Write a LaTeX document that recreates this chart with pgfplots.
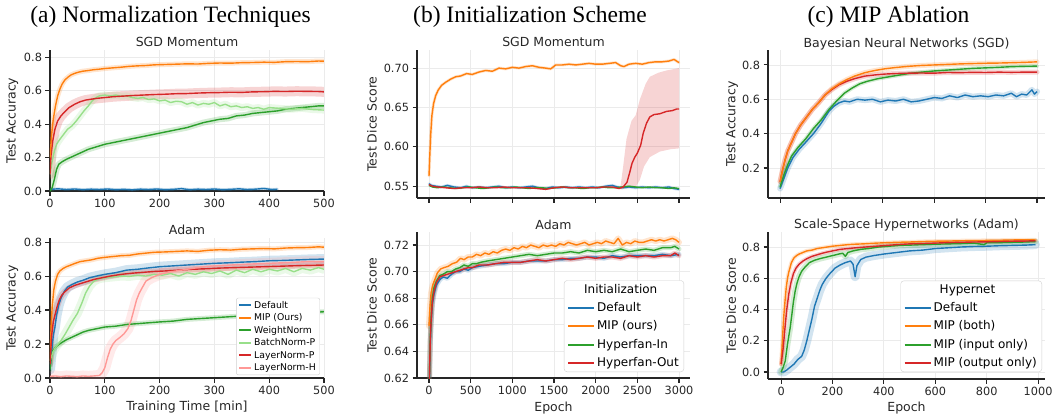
\documentclass[border=0pt]{standalone}
\usepackage{pgfplots}
\pgfplotsset{compat=1.18}
\usepackage{pgfplotstable}
\usepackage{fontspec}
\setmainfont{DejaVu Sans}
\newfontfamily\tms{Liberation Serif}
\definecolor{tblue}{HTML}{1F77B4}
\definecolor{torange}{HTML}{FF7F0E}
\definecolor{tgreen}{HTML}{2CA02C}
\definecolor{tlgreen}{HTML}{98DF8A}
\definecolor{tred}{HTML}{D62728}
\definecolor{tpink}{HTML}{FF9896}
\definecolor{spine}{HTML}{262626}
\definecolor{txt}{HTML}{262626}
\definecolor{gridc}{HTML}{EBEBEB}
\definecolor{legc}{HTML}{D0D0D0}
\pgfplotsset{
  myaxis/.style={scale only axis, axis lines=left, axis line style={-, line width=1.1pt, color=spine},
    tick align=outside, major tick length=4.5pt, every tick/.style={line width=1.1pt, color=spine},
    grid=major, major grid style={line width=0.8pt, color=gridc},
    tick label style={font=\fontsize{11.3}{13}\selectfont, color=txt},
    every axis title shift=0pt,
    title style={font=\fontsize{12.5}{15}\selectfont, color=txt, at={(0.5,1)}, anchor=base, yshift=3pt},
    /pgf/number format/assume math mode=true, /pgf/number format/1000 sep={},
    every axis y label/.style={rotate=90, anchor=center, font=\fontsize{12.5}{15}\selectfont, color=txt},
    every axis x label/.style={anchor=center, font=\fontsize{12.5}{15}\selectfont, color=txt},
    legend cell align=left},
  band/.style={line width=#1, opacity=0.2, forget plot, line join=round, line cap=round},
  ln/.style={line width=1.4pt, line join=round},
  yp1/.style={yticklabel style={/pgf/number format/fixed, /pgf/number format/fixed zerofill, /pgf/number format/precision=1}},
  yp2/.style={yticklabel style={/pgf/number format/fixed, /pgf/number format/fixed zerofill, /pgf/number format/precision=2}},
  bigleg/.style={legend style={at={(1,0)}, anchor=south east, font=\fontsize{12}{14}\selectfont, draw=legc, fill=white, rounded corners=3pt, inner xsep=3pt, inner ysep=1.5pt, row sep=3.8pt},
    legend image code/.code={\draw[#1, line width=2pt, rounded corners=0pt, opacity=1] (0pt,0pt) -- (26pt,0pt);}},
}
% ---------- (a) SGD ----------
\pgfplotstableread[row sep=\\]{x y\\0 0.20\\3 0.34\\6 0.43\\10 0.51\\14 0.57\\18 0.61\\22 0.64\\27 0.665\\32 0.68\\38 0.695\\45 0.705\\52 0.712\\60 0.718\\70 0.722\\80 0.727\\90 0.73\\100 0.734\\115 0.738\\130 0.742\\145 0.747\\160 0.75\\175 0.752\\190 0.756\\210 0.758\\230 0.76\\250 0.762\\270 0.761\\290 0.765\\310 0.767\\330 0.766\\350 0.769\\370 0.77\\390 0.772\\410 0.771\\430 0.775\\450 0.776\\470 0.775\\490 0.779\\500 0.778\\}\aTorange
\pgfplotstableread[row sep=\\]{x y\\0 0.10\\2 0.22\\5 0.30\\9 0.37\\14 0.42\\20 0.45\\27 0.475\\35 0.50\\45 0.52\\55 0.535\\65 0.545\\75 0.55\\85 0.555\\100 0.56\\115 0.565\\130 0.568\\150 0.572\\170 0.575\\190 0.578\\210 0.58\\230 0.583\\250 0.584\\270 0.587\\290 0.589\\310 0.59\\330 0.592\\350 0.591\\370 0.594\\390 0.595\\410 0.597\\430 0.596\\450 0.598\\470 0.597\\490 0.596\\500 0.594\\}\aTred
\pgfplotstableread[row sep=\\]{x y\\0 0.10\\4 0.18\\8 0.24\\12 0.28\\18 0.31\\25 0.34\\32 0.37\\40 0.39\\48 0.42\\55 0.45\\62 0.48\\70 0.51\\77 0.54\\84 0.56\\90 0.57\\100 0.575\\110 0.57\\120 0.575\\130 0.568\\140 0.57\\150 0.56\\160 0.555\\170 0.56\\180 0.548\\190 0.552\\200 0.54\\210 0.545\\220 0.53\\230 0.538\\240 0.535\\250 0.52\\260 0.53\\270 0.515\\280 0.525\\290 0.52\\300 0.53\\310 0.51\\320 0.52\\330 0.505\\340 0.51\\350 0.50\\360 0.505\\370 0.495\\380 0.50\\390 0.49\\400 0.50\\420 0.495\\440 0.49\\460 0.495\\480 0.488\\500 0.485\\}\aTlgreen
\pgfplotstableread[row sep=\\]{x y\\0 0.0\\4 0.02\\8 0.07\\12 0.13\\16 0.16\\22 0.175\\30 0.19\\40 0.205\\50 0.22\\60 0.235\\70 0.25\\80 0.26\\90 0.27\\100 0.28\\115 0.29\\130 0.30\\145 0.31\\160 0.32\\175 0.33\\190 0.34\\205 0.35\\220 0.36\\235 0.37\\250 0.38\\265 0.395\\280 0.41\\295 0.42\\310 0.43\\325 0.435\\340 0.45\\355 0.455\\370 0.465\\385 0.47\\400 0.475\\415 0.48\\430 0.49\\445 0.495\\460 0.50\\475 0.505\\490 0.51\\500 0.51\\}\aTgreen
\pgfplotstableread[row sep=\\]{x y\\0 0.010\\15 0.013\\30 0.009\\45 0.012\\60 0.008\\75 0.011\\90 0.009\\105 0.012\\120 0.008\\135 0.010\\150 0.007\\165 0.011\\180 0.009\\195 0.012\\210 0.008\\225 0.010\\240 0.014\\255 0.008\\270 0.011\\285 0.009\\300 0.012\\315 0.008\\330 0.010\\345 0.013\\360 0.009\\375 0.011\\390 0.015\\405 0.009\\415 0.011\\}\aTblue
% ---------- (a) Adam ----------
\pgfplotstableread[row sep=\\]{x y\\0 0.10\\2 0.30\\4 0.42\\7 0.52\\10 0.57\\14 0.61\\18 0.63\\24 0.645\\30 0.655\\38 0.665\\46 0.675\\55 0.685\\65 0.69\\75 0.695\\88 0.705\\100 0.71\\115 0.715\\130 0.72\\145 0.722\\160 0.73\\175 0.735\\190 0.74\\210 0.742\\230 0.745\\250 0.748\\270 0.745\\290 0.752\\310 0.755\\330 0.753\\350 0.758\\370 0.76\\390 0.762\\410 0.76\\430 0.765\\450 0.767\\470 0.768\\490 0.772\\500 0.77\\}\aBorange
\pgfplotstableread[row sep=\\]{x y\\0 0.05\\3 0.15\\6 0.25\\9 0.30\\12 0.37\\16 0.43\\20 0.47\\26 0.51\\32 0.535\\40 0.55\\50 0.565\\60 0.575\\72 0.59\\85 0.60\\100 0.61\\120 0.62\\140 0.635\\160 0.64\\180 0.648\\200 0.655\\225 0.66\\250 0.665\\275 0.67\\300 0.675\\325 0.678\\350 0.682\\375 0.685\\400 0.69\\425 0.692\\450 0.695\\475 0.698\\500 0.70\\}\aBblue
\pgfplotstableread[row sep=\\]{x y\\0 0.08\\3 0.25\\6 0.33\\9 0.37\\13 0.42\\17 0.46\\22 0.49\\28 0.51\\35 0.53\\45 0.545\\55 0.555\\65 0.565\\80 0.58\\95 0.59\\110 0.60\\130 0.61\\150 0.617\\170 0.622\\190 0.627\\210 0.63\\235 0.635\\260 0.64\\285 0.643\\310 0.647\\340 0.65\\370 0.653\\400 0.656\\430 0.659\\460 0.662\\500 0.665\\}\aBred
\pgfplotstableread[row sep=\\]{x y\\0 0.10\\5 0.15\\10 0.18\\15 0.20\\20 0.22\\28 0.26\\35 0.30\\42 0.34\\50 0.38\\58 0.44\\65 0.50\\72 0.54\\80 0.57\\90 0.585\\100 0.59\\115 0.595\\130 0.60\\145 0.598\\160 0.605\\175 0.60\\190 0.61\\205 0.605\\220 0.615\\235 0.60\\250 0.62\\265 0.61\\280 0.625\\295 0.615\\310 0.63\\325 0.61\\340 0.635\\355 0.62\\370 0.64\\385 0.625\\400 0.64\\415 0.63\\430 0.645\\445 0.625\\460 0.645\\475 0.635\\490 0.65\\500 0.64\\}\aBlgreen
\pgfplotstableread[row sep=\\]{x y\\0 0.05\\2 0.12\\5 0.16\\10 0.18\\15 0.195\\22 0.21\\30 0.225\\40 0.24\\50 0.255\\60 0.27\\70 0.28\\85 0.29\\100 0.30\\120 0.305\\140 0.315\\160 0.32\\180 0.325\\200 0.33\\225 0.335\\250 0.345\\275 0.35\\300 0.355\\325 0.36\\350 0.365\\375 0.37\\400 0.372\\425 0.378\\450 0.38\\475 0.385\\500 0.39\\}\aBgreen
\pgfplotstableread[row sep=\\]{x y\\0 0.01\\10 0.012\\20 0.008\\30 0.012\\40 0.01\\50 0.008\\60 0.012\\70 0.01\\80 0.012\\90 0.015\\95 0.03\\100 0.06\\105 0.12\\110 0.17\\115 0.20\\120 0.22\\128 0.24\\135 0.26\\142 0.29\\148 0.34\\153 0.40\\158 0.46\\163 0.50\\168 0.53\\175 0.57\\185 0.59\\200 0.61\\220 0.625\\240 0.635\\260 0.645\\280 0.655\\300 0.66\\330 0.665\\360 0.67\\400 0.675\\440 0.68\\470 0.685\\500 0.685\\}\aBpink
% ---------- (b) SGD ----------
\pgfplotstableread[row sep=\\]{x y\\0 0.563\\10 0.59\\20 0.615\\35 0.64\\55 0.655\\80 0.665\\110 0.672\\150 0.678\\200 0.682\\260 0.686\\320 0.689\\380 0.69\\450 0.693\\520 0.692\\600 0.695\\680 0.697\\760 0.696\\840 0.70\\920 0.699\\1000 0.701\\1080 0.70\\1160 0.702\\1240 0.703\\1320 0.701\\1400 0.70\\1460 0.699\\1520 0.704\\1600 0.704\\1680 0.705\\1760 0.704\\1840 0.705\\1920 0.706\\2000 0.705\\2080 0.705\\2160 0.706\\2240 0.707\\2300 0.703\\2340 0.702\\2400 0.705\\2480 0.706\\2560 0.705\\2640 0.707\\2720 0.708\\2800 0.708\\2880 0.709\\2940 0.711\\3000 0.707\\}\bTorange
\pgfplotstableread[row sep=\\]{x y\\0 0.553\\30 0.551\\80 0.550\\150 0.549\\220 0.551\\300 0.549\\380 0.548\\450 0.550\\520 0.548\\600 0.549\\680 0.548\\760 0.549\\840 0.550\\920 0.548\\1000 0.549\\1080 0.548\\1160 0.549\\1240 0.550\\1320 0.548\\1400 0.547\\1480 0.549\\1560 0.548\\1640 0.549\\1720 0.548\\1800 0.549\\1880 0.548\\1960 0.549\\2040 0.548\\2120 0.550\\2200 0.551\\2260 0.549\\2320 0.548\\2400 0.549\\2480 0.548\\2560 0.549\\2640 0.548\\2720 0.549\\2800 0.548\\2880 0.549\\2940 0.547\\3000 0.546\\}\bTblue
\pgfplotstableread[row sep=\\]{x y\\0 0.551\\40 0.549\\100 0.548\\170 0.549\\250 0.548\\330 0.547\\400 0.548\\480 0.549\\560 0.548\\640 0.547\\720 0.548\\800 0.549\\880 0.548\\960 0.548\\1040 0.549\\1120 0.548\\1200 0.547\\1280 0.548\\1360 0.548\\1440 0.547\\1520 0.548\\1600 0.549\\1680 0.548\\1760 0.548\\1840 0.547\\1920 0.548\\2000 0.548\\2080 0.549\\2160 0.548\\2240 0.548\\2320 0.549\\2400 0.550\\2480 0.549\\2560 0.548\\2640 0.549\\2720 0.548\\2800 0.548\\2880 0.547\\2940 0.548\\3000 0.547\\}\bTgreen
\pgfplotstableread[row sep=\\]{x y\\0 0.552\\40 0.550\\100 0.549\\200 0.548\\300 0.547\\400 0.548\\500 0.548\\600 0.549\\700 0.548\\800 0.548\\900 0.549\\1000 0.548\\1100 0.548\\1200 0.548\\1300 0.547\\1400 0.546\\1500 0.548\\1600 0.549\\1700 0.548\\1800 0.548\\1900 0.548\\2000 0.548\\2100 0.549\\2200 0.549\\2280 0.547\\2330 0.549\\2376 0.555\\2410 0.568\\2436 0.579\\2470 0.587\\2500 0.592\\2540 0.602\\2570 0.617\\2610 0.630\\2650 0.638\\2700 0.641\\2770 0.642\\2850 0.645\\2920 0.646\\2970 0.648\\3000 0.648\\}\bTred
% ---------- (b) Adam ----------
\pgfplotstableread[row sep=\\]{x y\\0 0.659\\10 0.672\\25 0.684\\45 0.69\\70 0.694\\100 0.699\\140 0.702\\180 0.703\\230 0.704\\280 0.706\\330 0.707\\380 0.71\\420 0.709\\470 0.711\\520 0.711\\570 0.713\\620 0.712\\670 0.714\\720 0.713\\770 0.715\\820 0.714\\870 0.716\\920 0.717\\970 0.716\\1020 0.718\\1070 0.717\\1120 0.719\\1170 0.718\\1220 0.72\\1270 0.719\\1320 0.718\\1370 0.72\\1420 0.719\\1470 0.72\\1520 0.719\\1570 0.721\\1620 0.72\\1670 0.722\\1720 0.721\\1770 0.72\\1820 0.721\\1870 0.722\\1920 0.72\\1970 0.721\\2020 0.722\\2070 0.721\\2120 0.723\\2170 0.722\\2220 0.721\\2270 0.725\\2320 0.72\\2370 0.722\\2420 0.721\\2470 0.723\\2520 0.722\\2570 0.722\\2620 0.723\\2670 0.724\\2720 0.723\\2770 0.724\\2820 0.723\\2870 0.724\\2920 0.725\\2960 0.724\\3000 0.722\\}\bBorange
\pgfplotstableread[row sep=\\]{x y\\0 0.60\\8 0.625\\15 0.645\\25 0.66\\40 0.675\\60 0.683\\90 0.69\\130 0.694\\170 0.696\\220 0.695\\270 0.698\\320 0.70\\370 0.70\\420 0.702\\470 0.701\\520 0.703\\600 0.704\\700 0.705\\800 0.706\\900 0.706\\1000 0.707\\1100 0.707\\1200 0.708\\1300 0.708\\1400 0.708\\1500 0.709\\1600 0.709\\1700 0.71\\1800 0.71\\1900 0.711\\2000 0.711\\2100 0.71\\2200 0.712\\2300 0.711\\2400 0.712\\2500 0.712\\2600 0.712\\2700 0.712\\2800 0.713\\2900 0.712\\3000 0.713\\}\bBblue
\pgfplotstableread[row sep=\\]{x y\\0 0.60\\8 0.63\\15 0.65\\25 0.665\\40 0.68\\60 0.688\\90 0.693\\130 0.697\\170 0.698\\220 0.70\\270 0.70\\320 0.702\\370 0.703\\420 0.705\\470 0.704\\520 0.706\\570 0.706\\620 0.707\\700 0.708\\800 0.709\\900 0.71\\1000 0.711\\1100 0.712\\1200 0.713\\1300 0.712\\1400 0.713\\1500 0.714\\1600 0.714\\1700 0.715\\1800 0.714\\1900 0.716\\2000 0.715\\2100 0.716\\2200 0.715\\2300 0.717\\2400 0.715\\2500 0.716\\2600 0.717\\2700 0.716\\2800 0.718\\2900 0.718\\2950 0.719\\3000 0.717\\}\bBgreen
\pgfplotstableread[row sep=\\]{x y\\0 0.60\\8 0.628\\15 0.648\\25 0.663\\40 0.677\\60 0.685\\90 0.692\\130 0.696\\170 0.697\\220 0.698\\270 0.699\\320 0.70\\370 0.701\\420 0.702\\470 0.703\\520 0.703\\600 0.705\\700 0.705\\800 0.706\\900 0.707\\1000 0.707\\1100 0.707\\1200 0.708\\1300 0.709\\1400 0.708\\1500 0.709\\1600 0.71\\1700 0.709\\1800 0.71\\1900 0.711\\2000 0.71\\2100 0.711\\2200 0.711\\2300 0.71\\2400 0.712\\2500 0.711\\2600 0.712\\2700 0.711\\2800 0.712\\2900 0.712\\2950 0.714\\3000 0.712\\}\bBred
% ---------- (c) BNN ----------
\pgfplotstableread[row sep=\\]{x y\\0 0.12\\10 0.19\\20 0.25\\30 0.30\\45 0.35\\60 0.40\\80 0.45\\100 0.49\\125 0.54\\150 0.58\\175 0.625\\200 0.66\\230 0.69\\260 0.715\\290 0.735\\330 0.755\\370 0.768\\410 0.778\\450 0.785\\500 0.792\\550 0.797\\600 0.80\\650 0.803\\700 0.806\\750 0.808\\800 0.81\\850 0.811\\900 0.813\\950 0.815\\1000 0.818\\}\cTorange
\pgfplotstableread[row sep=\\]{x y\\0 0.12\\10 0.19\\20 0.25\\30 0.30\\45 0.35\\60 0.40\\80 0.45\\100 0.49\\125 0.54\\150 0.58\\175 0.625\\200 0.655\\230 0.685\\260 0.705\\290 0.72\\330 0.735\\370 0.742\\410 0.747\\450 0.75\\500 0.752\\550 0.753\\600 0.752\\650 0.756\\700 0.755\\750 0.757\\800 0.756\\850 0.758\\900 0.757\\950 0.758\\1000 0.758\\}\cTred
\pgfplotstableread[row sep=\\]{x y\\0 0.09\\15 0.16\\30 0.22\\45 0.27\\70 0.32\\100 0.37\\130 0.43\\160 0.48\\190 0.54\\220 0.59\\250 0.635\\280 0.665\\310 0.69\\340 0.705\\380 0.72\\420 0.73\\460 0.74\\500 0.75\\550 0.758\\600 0.765\\650 0.77\\700 0.775\\750 0.78\\800 0.783\\850 0.786\\900 0.79\\950 0.792\\1000 0.793\\}\cTgreen
\pgfplotstableread[row sep=\\]{x y\\0 0.08\\15 0.14\\30 0.20\\50 0.26\\75 0.31\\100 0.35\\130 0.40\\160 0.46\\190 0.53\\210 0.56\\230 0.58\\250 0.59\\270 0.585\\300 0.60\\330 0.595\\360 0.60\\390 0.585\\420 0.595\\450 0.59\\480 0.60\\510 0.585\\540 0.59\\570 0.60\\600 0.61\\630 0.605\\660 0.62\\690 0.61\\720 0.625\\750 0.615\\780 0.62\\810 0.615\\840 0.625\\870 0.62\\900 0.635\\920 0.615\\940 0.63\\960 0.625\\980 0.655\\990 0.63\\1000 0.645\\}\cTblue
% ---------- (c) Hypernet ----------
\pgfplotstableread[row sep=\\]{x y\\0 0.05\\5 0.20\\10 0.35\\15 0.45\\20 0.54\\25 0.60\\30 0.64\\40 0.70\\50 0.73\\60 0.745\\70 0.755\\85 0.765\\100 0.775\\120 0.78\\140 0.79\\160 0.795\\180 0.80\\200 0.805\\230 0.81\\260 0.815\\290 0.818\\320 0.82\\360 0.824\\400 0.827\\450 0.83\\500 0.832\\550 0.835\\600 0.837\\650 0.838\\700 0.84\\750 0.841\\800 0.842\\850 0.843\\900 0.845\\950 0.846\\990 0.845\\}\cBorange
\pgfplotstableread[row sep=\\]{x y\\0 0.05\\8 0.15\\15 0.28\\22 0.40\\30 0.50\\38 0.57\\48 0.63\\58 0.665\\70 0.69\\85 0.71\\100 0.725\\120 0.74\\140 0.75\\160 0.76\\180 0.768\\200 0.775\\230 0.785\\260 0.79\\290 0.795\\330 0.80\\370 0.805\\410 0.81\\450 0.815\\500 0.82\\550 0.822\\600 0.825\\650 0.828\\700 0.83\\750 0.832\\800 0.833\\850 0.835\\900 0.837\\950 0.838\\990 0.84\\}\cBred
\pgfplotstableread[row sep=\\]{x y\\0 0.0\\8 0.03\\16 0.07\\25 0.18\\35 0.28\\42 0.37\\48 0.45\\55 0.52\\62 0.57\\70 0.61\\80 0.645\\95 0.675\\110 0.70\\130 0.715\\150 0.725\\175 0.735\\200 0.745\\225 0.755\\240 0.76\\250 0.74\\260 0.765\\280 0.775\\310 0.785\\340 0.79\\380 0.80\\420 0.805\\460 0.81\\500 0.812\\550 0.815\\600 0.818\\650 0.82\\700 0.822\\750 0.825\\790 0.815\\800 0.827\\850 0.828\\900 0.83\\950 0.832\\990 0.835\\}\cBgreen
\pgfplotstableread[row sep=\\]{x y\\0 0.0\\10 0.0\\20 0.01\\35 0.03\\50 0.05\\65 0.08\\80 0.10\\90 0.14\\100 0.20\\110 0.27\\120 0.34\\130 0.42\\140 0.47\\150 0.52\\160 0.56\\175 0.60\\190 0.63\\210 0.665\\230 0.685\\250 0.70\\270 0.71\\280 0.69\\288 0.61\\295 0.68\\310 0.72\\330 0.735\\360 0.745\\400 0.755\\450 0.765\\500 0.775\\550 0.78\\600 0.79\\650 0.795\\700 0.80\\750 0.803\\800 0.805\\850 0.808\\900 0.81\\950 0.812\\990 0.815\\}\cBblue
\begin{document}
\begin{tikzpicture}
\path[use as bounding box] (0pt,0pt) rectangle (1052pt,416pt);
\node[anchor=base, text=black] at (170.5pt,393.5pt) {\tms\fontsize{23.5}{28}\selectfont (a) Normalization Techniques};
\node[anchor=base, text=black] at (530pt,393.5pt) {\tms\fontsize{23.5}{28}\selectfont (b) Initialization Scheme};
\node[anchor=base, text=black] at (888.5pt,393.5pt) {\tms\fontsize{23.5}{28}\selectfont (c) MIP Ablation};
% (a) top
\begin{axis}[myaxis, yp1, at={(50pt,225pt)}, anchor=south west, width=274pt, height=141pt,
  xmin=0, xmax=500, ymin=0, ymax=0.845, xtick={0,100,...,500}, ytick={0,0.2,...,0.8},
  title={SGD Momentum}, ylabel={Test Accuracy}, ylabel style={at={(axis description cs:-0.137,0.5)}}]
\addplot[band=10pt, tred] table {\aTred};
\addplot[band=7pt, tlgreen] table {\aTlgreen};
\addplot[band=6pt, tgreen] table {\aTgreen};
\addplot[band=5pt, torange] table {\aTorange};
\addplot[band=3pt, tblue] table {\aTblue};
\addplot[ln, tblue] table {\aTblue};
\addplot[ln, tgreen] table {\aTgreen};
\addplot[ln, tlgreen] table {\aTlgreen};
\addplot[ln, tred] table {\aTred};
\addplot[ln, torange] table {\aTorange};
\end{axis}
% (a) bottom
\begin{axis}[myaxis, yp1, at={(50pt,38pt)}, anchor=south west, width=274pt, height=140pt,
  xmin=0, xmax=500, ymin=0, ymax=0.824, xtick={0,100,...,500}, ytick={0,0.2,...,0.8},
  title={Adam}, ylabel={Test Accuracy}, ylabel style={at={(axis description cs:-0.137,0.5)}},
  xlabel={Training Time [min]}, xlabel style={at={(axis description cs:0.5,-0.211)}},
  legend style={at={(1,0)}, anchor=south east, xshift=-4pt, yshift=3pt, font=\fontsize{9.3}{11}\selectfont, draw=legc, fill=white, rounded corners=2pt, inner xsep=2pt, inner ysep=1pt, row sep=0pt},
  legend image code/.code={\draw[#1, line width=1.8pt, rounded corners=0pt, opacity=1] (0pt,0pt) -- (12pt,0pt);}]
\addplot[band=10pt, tblue] table {\aBblue};
\addplot[band=9pt, tlgreen] table {\aBlgreen};
\addplot[band=11pt, tpink] table {\aBpink};
\addplot[band=6pt, tred] table {\aBred};
\addplot[band=5pt, tgreen] table {\aBgreen};
\addplot[band=5pt, torange] table {\aBorange};
\addplot[ln, tblue] table {\aBblue}; \addlegendentry{Default}
\addplot[ln, torange] table {\aBorange}; \addlegendentry{MIP (Ours)}
\addplot[ln, tgreen] table {\aBgreen}; \addlegendentry{WeightNorm}
\addplot[ln, tlgreen] table {\aBlgreen}; \addlegendentry{BatchNorm-P}
\addplot[ln, tred] table {\aBred}; \addlegendentry{LayerNorm-P}
\addplot[ln, tpink] table {\aBpink}; \addlegendentry{LayerNorm-H}
\end{axis}
% (b) top
\begin{axis}[myaxis, yp2, at={(417pt,218pt)}, anchor=south west, width=273pt, height=148pt,
  xmin=-144, xmax=3132, ymin=0.535, ymax=0.723, xtick={0,500,...,3000}, xticklabels={}, ytick={0.55,0.60,0.65,0.70},
  title={SGD Momentum}, ylabel={Test Dice Score}, ylabel style={at={(axis description cs:-0.165,0.5)}}]
\addplot[fill=tred, fill opacity=0.2, draw=none, forget plot] coordinates {(2300,0.551) (2330,0.575) (2370,0.61) (2430,0.633) (2480,0.64) (2530,0.66) (2600,0.68) (2650,0.689) (2750,0.694) (2850,0.697) (2950,0.699) (3000,0.70) (3000,0.598) (2900,0.597) (2770,0.594) (2650,0.587) (2580,0.575) (2530,0.558) (2480,0.549) (2300,0.546)};
\addplot[band=3pt, torange] table {\bTorange};
\addplot[band=3pt, tblue] table {\bTblue};
\addplot[ln, tblue] table {\bTblue};
\addplot[ln, torange] table {\bTorange};
\addplot[ln, tgreen] table {\bTgreen};
\addplot[ln, tred] table {\bTred};
\end{axis}
% (b) bottom
\begin{axis}[myaxis, yp2, bigleg, at={(417pt,38pt)}, anchor=south west, width=273pt, height=146pt,
  xmin=-144, xmax=3132, ymin=0.62, ymax=0.7298, xtick={0,500,...,3000}, ytick={0.62,0.64,...,0.72},
  title={Adam}, ylabel={Test Dice Score}, ylabel style={at={(axis description cs:-0.165,0.5)}},
  xlabel={Epoch}, xlabel style={at={(axis description cs:0.5,-0.205)}},
  legend style={xshift=-6pt, yshift=6pt}]
\addplot[band=6pt, torange] table {\bBorange};
\addplot[band=5pt, tgreen] table {\bBgreen};
\addplot[band=5pt, tblue] table {\bBblue};
\addplot[band=5pt, tred] table {\bBred};
\addlegendimage{empty legend}\addlegendentry{\hspace*{-13pt}Initialization}
\addplot[ln, tblue] table {\bBblue}; \addlegendentry{Default}
\addplot[ln, torange] table {\bBorange}; \addlegendentry{MIP (ours)}
\addplot[ln, tgreen] table {\bBgreen}; \addlegendentry{Hyperfan-In}
\addplot[ln, tred] table {\bBred}; \addlegendentry{Hyperfan-Out}
\end{axis}
% (c) top
\begin{axis}[myaxis, yp1, at={(768pt,218pt)}, anchor=south west, width=277pt, height=148pt,
  xmin=-47, xmax=1031, ymin=0.025, ymax=0.887, xtick={0,200,...,1000}, xticklabels={}, ytick={0.2,0.4,0.6,0.8},
  title={Bayesian Neural Networks (SGD)}, ylabel={Test Accuracy}, ylabel style={at={(axis description cs:-0.130,0.5)}}]
\addplot[band=5pt, torange] table {\cTorange};
\addplot[band=5pt, tred] table {\cTred};
\addplot[band=4pt, tgreen] table {\cTgreen};
\addplot[band=6pt, tblue] table {\cTblue};
\addplot[ln, tblue] table {\cTblue};
\addplot[ln, tgreen] table {\cTgreen};
\addplot[ln, tred] table {\cTred};
\addplot[ln, torange] table {\cTorange};
\end{axis}
% (c) bottom
\begin{axis}[myaxis, yp1, bigleg, at={(768pt,37pt)}, anchor=south west, width=277pt, height=147pt,
  xmin=-51, xmax=1027, ymin=-0.045, ymax=0.896, xtick={0,200,...,1000}, ytick={0,0.2,...,0.8},
  title={Scale-Space Hypernetworks (Adam)}, ylabel={Test Dice Score}, ylabel style={at={(axis description cs:-0.133,0.5)}},
  xlabel={Epoch}, xlabel style={at={(axis description cs:0.5,-0.197)}},
  legend style={xshift=-3pt, yshift=7pt}]
\addplot[band=9pt, tblue] table {\cBblue};
\addplot[band=6pt, tgreen] table {\cBgreen};
\addplot[band=4pt, tred] table {\cBred};
\addplot[band=4pt, torange] table {\cBorange};
\addlegendimage{empty legend}\addlegendentry{\hspace*{6pt}Hypernet}
\addplot[ln, tblue] table {\cBblue}; \addlegendentry{Default}
\addplot[ln, torange] table {\cBorange}; \addlegendentry{MIP (both)}
\addplot[ln, tgreen] table {\cBgreen}; \addlegendentry{MIP (input only)}
\addplot[ln, tred] table {\cBred}; \addlegendentry{MIP (output only)}
\end{axis}
\end{tikzpicture}
\end{document}
